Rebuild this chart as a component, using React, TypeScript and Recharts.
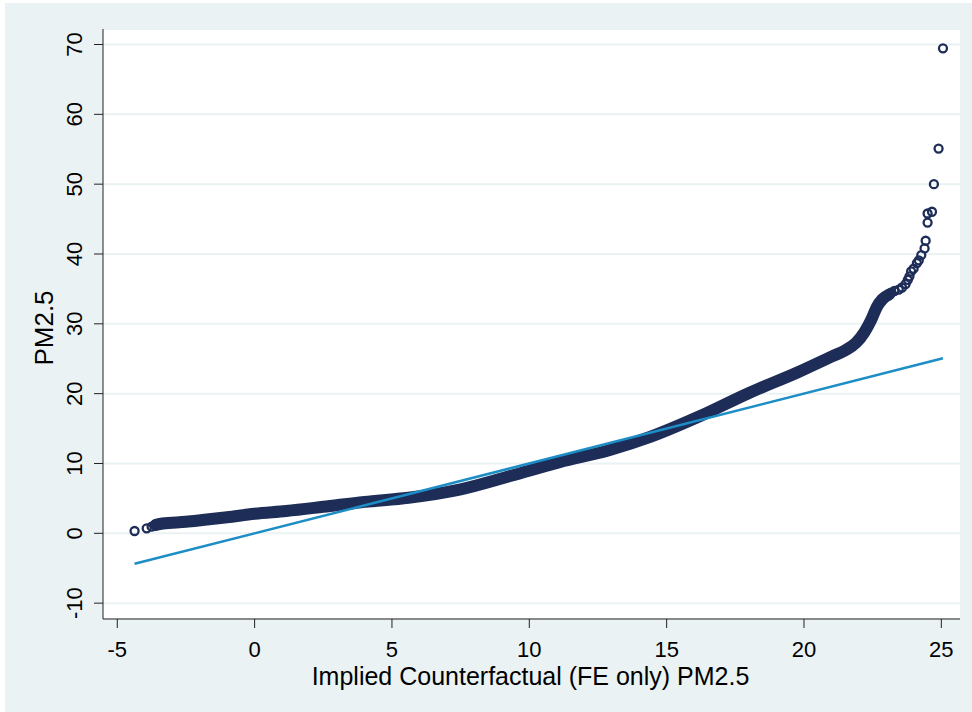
import React from 'react';
import { ScatterChart, Scatter, XAxis, YAxis, CartesianGrid, Curve } from 'recharts';

// dense body of the quantile plot (centre of the thick band)
const bandX = [-3.6, -3.35, -2.5, -1.9, -1, 0, 1.15, 2.5, 4, 5.6, 7.5, 9.3, 11.1, 12.9, 14.4, 16.2, 18.0, 19.8, 21.0, 21.5, 21.9, 22.2, 22.45, 22.65, 22.85, 23.1];
const bandY = [1.2, 1.4, 1.65, 1.9, 2.3, 2.8, 3.2, 3.8, 4.5, 5.1, 6.3, 8.2, 10.2, 11.9, 13.8, 16.75, 20.1, 23.1, 25.3, 26.2, 27.3, 28.8, 30.6, 32.4, 33.5, 34.2];

// individual hollow markers at both ends
const tailX = [-4.37, -3.93, -3.75, 23.17, 23.29, 23.45, 23.57, 23.7, 23.78, 23.84, 23.9, 23.99, 24.11, 24.18, 24.27, 24.39, 24.43, 24.5, 24.5, 24.66, 24.73, 24.9, 25.06];
const tailY = [0.33, 0.72, 0.95, 34.45, 34.7, 34.9, 35.2, 35.7, 36.3, 36.8, 37.5, 37.9, 38.7, 39.1, 39.85, 40.8, 41.9, 44.5, 45.8, 46.05, 50.0, 55.1, 69.45];

// 45-degree reference line
const refX = [-4.37, 25.06];
const refY = [-4.37, 25.06];

const xTicks = [-5, 0, 5, 10, 15, 20, 25];
const yTicks = [-10, 0, 10, 20, 30, 40, 50, 60, 70];

const NAVY = '#1E2D58';
const BLUE = '#1D8DC6';
const BG = '#EAF2F3';
const FONT = '"Liberation Sans", Arial, sans-serif';

const band = bandX.map((x, i) => ({ x, y: bandY[i] }));
const tail = tailX.map((x, i) => ({ x, y: tailY[i] }));
const ref = refX.map((x, i) => ({ x, y: refY[i] }));

const YTick = (props: any) => {
  const { x, y, payload } = props;
  return (
    <text x={x} y={y} transform={`rotate(-90 ${x} ${y})`} textAnchor="middle" fontSize={22} fill="#000" fontFamily={FONT}>
      {payload.value}
    </text>
  );
};

const Ring = (props: any) => {
  const { cx, cy } = props;
  if (cx == null || cy == null) return <g />;
  return <circle cx={cx} cy={cy} r={4} fill="none" stroke={NAVY} strokeWidth={2.3} />;
};

const Nothing = () => <g />;

const BandLine = (props: any) => (
  <Curve
    points={props.points}
    type="monotoneX"
    fill="none"
    stroke={NAVY}
    strokeWidth={12}
    strokeLinecap="round"
    strokeLinejoin="round"
  />
);

export default function App() {
  return (
    <div style={{ position: 'absolute', left: 0, top: 0, width: 972, height: 712, background: '#fff', fontFamily: FONT }}>
      <div style={{ position: 'absolute', left: 5, top: 3, width: 967, height: 709, background: BG }} />
      <div style={{ position: 'absolute', left: 0, top: 0 }}>
        <ScatterChart width={972} height={712} margin={{ top: 29, right: 12, bottom: 0, left: 0 }}>
          <CartesianGrid vertical={false} stroke={BG} strokeWidth={2} fill="#fff" />
          <XAxis
            type="number"
            dataKey="x"
            domain={[-5.52, 25.68]}
            ticks={xTicks}
            allowDataOverflow
            height={93}
            tickSize={9}
            tickMargin={13}
            stroke="#222"
            tick={{ fill: '#000', fontSize: 22, fontFamily: FONT }}
            label={{
              content: (p: any) => {
                const vb = p.viewBox;
                return (
                  <text x={vb.x + vb.width / 2 - 1} y={vb.y + 66} textAnchor="middle" fontSize={25} fill="#000" fontFamily={FONT}>
                    Implied Counterfactual (FE only) PM2.5
                  </text>
                );
              },
            }}
          />
          <YAxis
            type="number"
            dataKey="y"
            domain={[-12.27, 72.22]}
            ticks={yTicks}
            allowDataOverflow
            width={103}
            tickSize={9}
            tickMargin={12}
            stroke="#222"
            tick={<YTick />}
            label={{
              content: (p: any) => {
                const vb = p.viewBox;
                const cy = vb.y + vb.height / 2 + 4;
                return (
                  <text x={53} y={cy} transform={`rotate(-90 53 ${cy})`} textAnchor="middle" fontSize={26} fill="#000" fontFamily={FONT}>
                    PM2.5
                  </text>
                );
              },
            }}
          />
          <Scatter data={band} fill="none" shape={Nothing} line={BandLine} isAnimationActive={false} />
          <Scatter data={tail} fill="none" shape={Ring} isAnimationActive={false} />
          <Scatter
            data={ref}
            fill="none"
            shape={Nothing}
            line={{ stroke: BLUE, strokeWidth: 2.5 }}
            isAnimationActive={false}
          />
        </ScatterChart>
      </div>
    </div>
  );
}
